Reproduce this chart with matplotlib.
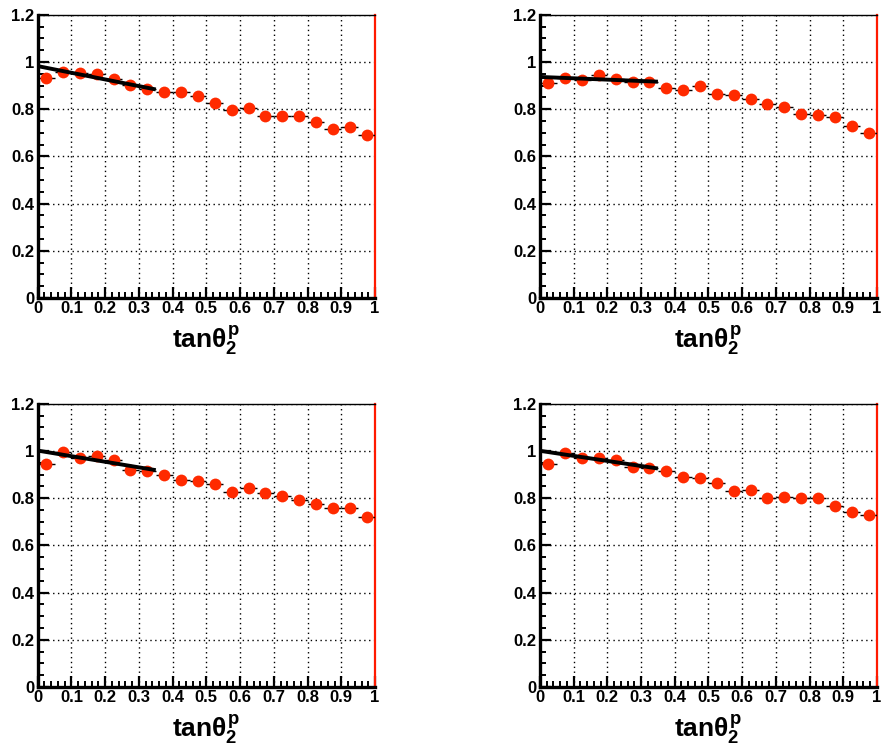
import matplotlib
matplotlib.use("Agg")
import matplotlib.pyplot as plt
import numpy as np

plt.rcParams['font.family'] = ['Liberation Sans', 'DejaVu Sans']
plt.rcParams['font.weight'] = 'bold'
plt.rcParams['mathtext.fontset'] = 'custom'
plt.rcParams['mathtext.rm'] = 'Liberation Sans:bold'
plt.rcParams['mathtext.it'] = 'Liberation Sans:bold'
plt.rcParams['mathtext.bf'] = 'Liberation Sans:bold'

# bin centres of tan(theta_2^p)
x_bins = [0.025, 0.075, 0.125, 0.175, 0.225, 0.275, 0.325, 0.375, 0.425, 0.475,
          0.525, 0.575, 0.625, 0.675, 0.725, 0.775, 0.825, 0.875, 0.925, 0.975]
half_width = 0.025

y_tl = [0.931, 0.959, 0.955, 0.950, 0.927, 0.903, 0.884, 0.873, 0.873, 0.858,
        0.826, 0.797, 0.804, 0.770, 0.770, 0.773, 0.744, 0.717, 0.724, 0.690]
y_tr = [0.910, 0.932, 0.924, 0.944, 0.927, 0.914, 0.916, 0.890, 0.880, 0.900,
        0.865, 0.860, 0.843, 0.822, 0.808, 0.778, 0.774, 0.766, 0.729, 0.698]
y_bl = [0.947, 0.994, 0.970, 0.978, 0.960, 0.920, 0.917, 0.899, 0.879, 0.873,
        0.859, 0.828, 0.844, 0.824, 0.808, 0.793, 0.776, 0.759, 0.759, 0.722]
y_br = [0.947, 0.992, 0.972, 0.970, 0.960, 0.931, 0.929, 0.914, 0.888, 0.886,
        0.864, 0.831, 0.835, 0.801, 0.807, 0.799, 0.801, 0.765, 0.742, 0.731]

# linear fit lines: range and values at the ends
fit_x = [0.0, 0.35]
fit_tl = [0.983, 0.884]
fit_tr = [0.937, 0.917]
fit_bl = [1.002, 0.919]
fit_br = [1.001, 0.926]

x_ticks = [0, 0.1, 0.2, 0.3, 0.4, 0.5, 0.6, 0.7, 0.8, 0.9, 1.0]
x_labels = ['0', '0.1', '0.2', '0.3', '0.4', '0.5', '0.6', '0.7', '0.8', '0.9', '1']
y_ticks = [0, 0.2, 0.4, 0.6, 0.8, 1.0, 1.2]
y_labels = ['0', '0.2', '0.4', '0.6', '0.8', '1', '1.2']

panels = [
    (y_tl, fit_tl, [0.0428, 0.600, 0.3829, 0.380]),
    (y_tr, fit_tr, [0.6129, 0.600, 0.3825, 0.380]),
    (y_bl, fit_bl, [0.0428, 0.0779, 0.3829, 0.380]),
    (y_br, fit_br, [0.6129, 0.0779, 0.3825, 0.380]),
]

fig = plt.figure(figsize=(8.81, 7.45), dpi=100)

for y_vals, fit_vals, pos in panels:
    ax = fig.add_axes(pos)
    ax.set_xlim(0, 1)
    ax.set_ylim(0, 1.2)
    ax.grid(True, color='black', linestyle=(0, (1, 2.5)), linewidth=1.0)
    ax.set_axisbelow(True)
    ax.errorbar(x_bins, y_vals, xerr=half_width, fmt='o', color='#ff2a00',
                ecolor='black', elinewidth=1.0, capsize=0, markersize=8.5,
                markeredgewidth=0, zorder=3)
    ax.plot(fit_x, fit_vals, color='black', linewidth=2.8, zorder=4,
            solid_capstyle='butt')

    ax.set_xticks(x_ticks)
    ax.set_xticklabels(x_labels)
    ax.set_yticks(y_ticks)
    ax.set_yticklabels(y_labels)
    ax.set_xticks(np.arange(0, 1.0001, 0.02), minor=True)
    ax.set_yticks(np.arange(0, 1.2001, 0.05), minor=True)
    ax.tick_params(which='major', direction='in', length=8, width=1.6,
                   labelsize=12, pad=2.5)
    ax.tick_params(which='minor', direction='in', length=4, width=1.4)
    for lab in ax.get_xticklabels() + ax.get_yticklabels():
        lab.set_fontweight('bold')

    ax.spines['left'].set_linewidth(2.4)
    ax.spines['bottom'].set_linewidth(2.4)
    ax.spines['top'].set_linewidth(1.0)
    ax.spines['right'].set_linewidth(1.6)
    ax.spines['right'].set_color('#ff1a00')

    ax.set_xlabel(r'tan$\theta_2^p$', fontsize=19, fontweight='bold', labelpad=5)

fig.savefig('out.png', dpi=100)
